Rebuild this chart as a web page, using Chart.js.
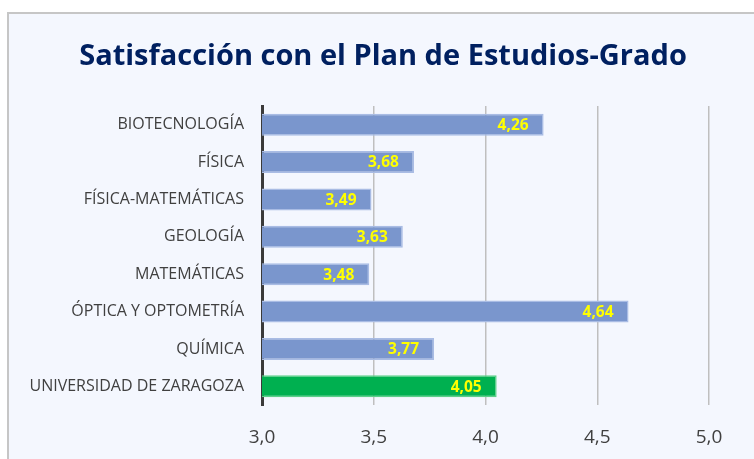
<!DOCTYPE html>
<html>
<head>
<meta charset="utf-8">
<script src="https://cdn.jsdelivr.net/npm/chart.js@4"></script>
<style>
  html, body { margin: 0; padding: 0; background: #ffffff; overflow: hidden; }
  #card {
    position: absolute; left: 7px; top: 12px; width: 800px; height: 500px;
    background: #F4F7FE; border-left: 2px solid #c6c6c6; border-top: 2px solid #c6c6c6;
  }
  #myBarChart { position: absolute; left: 0; top: 0; }
</style>
</head>
<body>
<div id="card"></div>
<canvas id="myBarChart" width="754" height="459"></canvas>
<script>
var titulos = ["BIOTECNOLOGÍA", "FÍSICA", "FÍSICA-MATEMÁTICAS", "GEOLOGÍA", "MATEMÁTICAS", "ÓPTICA Y OPTOMETRÍA", "QUÍMICA", "UNIVERSIDAD DE ZARAGOZA"];
var satisfaccion = [4.26, 3.68, 3.49, 3.63, 3.48, 4.64, 3.77, 4.05];
var eje_min = 3.0;
var eje_max = 5.0;
var eje_paso = 0.5;
var titulo_grafico = 'Satisfacción con el Plan de Estudios-Grado';

var fondo = [];
var borde = [];
for (var i = 0; i < titulos.length; i++) {
    if (titulos[i] == "UNIVERSIDAD DE ZARAGOZA") {
        fondo.push('#00B050');
        borde.push('#5ccf88');
    } else {
        fondo.push('#7A96CD');
        borde.push('#A9BCE4');
    }
}

// titulo centrado sobre la tarjeta, y etiquetas amarillas dentro de cada barra
var etiquetas = {
    id: 'etiquetas',
    afterDraw: function(chart) {
        var ctx = chart.ctx;
        ctx.save();
        ctx.font = 'bold 29px "Open Sans"';
        ctx.fillStyle = '#002060';
        ctx.textAlign = 'center';
        ctx.textBaseline = 'alphabetic';
        ctx.fillText(titulo_grafico, 383, 65);

        var meta = chart.getDatasetMeta(0);
        ctx.font = 'bold 15.5px "Open Sans"';
        ctx.fillStyle = '#FFFF00';
        ctx.textAlign = 'right';
        ctx.textBaseline = 'middle';
        meta.data.forEach(function(bar, idx) {
            var txt = satisfaccion[idx].toFixed(2).replace('.', ',');
            ctx.fillText(txt, bar.x - 15, bar.y + 1);
        });
        ctx.restore();
    }
};

var ctx = document.getElementById("myBarChart");
var myBarChart = new Chart(ctx, {
    type: 'bar',
    data: {
        labels: titulos,
        datasets: [{
            data: satisfaccion,
            backgroundColor: fondo,
            borderColor: borde,
            borderWidth: 1.5,
            borderSkipped: 'left',
            categoryPercentage: 1,
            barPercentage: 0.59
        }]
    },
    plugins: [etiquetas],
    options: {
        indexAxis: 'y',
        responsive: false,
        animation: false,
        layout: {
            padding: { left: 0, right: 45, top: 106, bottom: 0 }
        },
        plugins: {
            legend: { display: false },
            tooltip: { enabled: false },
            title: { display: false }
        },
        scales: {
            x: {
                min: eje_min,
                max: eje_max,
                border: { display: false },
                grid: { color: '#bfbfbf', lineWidth: 1.5, drawTicks: false },
                ticks: {
                    stepSize: eje_paso,
                    color: '#404040',
                    padding: 21,
                    font: { family: 'Open Sans', size: 19 },
                    callback: function(value) {
                        return value.toFixed(1).replace('.', ',');
                    }
                },
                afterFit: function(scale) { scale.height = 54; }
            },
            y: {
                border: { color: '#3a3a3a', width: 3 },
                grid: { display: false, drawTicks: false },
                ticks: {
                    color: '#404040',
                    padding: 18,
                    font: { family: 'Open Sans', size: 16 }
                },
                afterFit: function(scale) { scale.width = 262; }
            }
        }
    }
});
</script>
</body>
</html>
